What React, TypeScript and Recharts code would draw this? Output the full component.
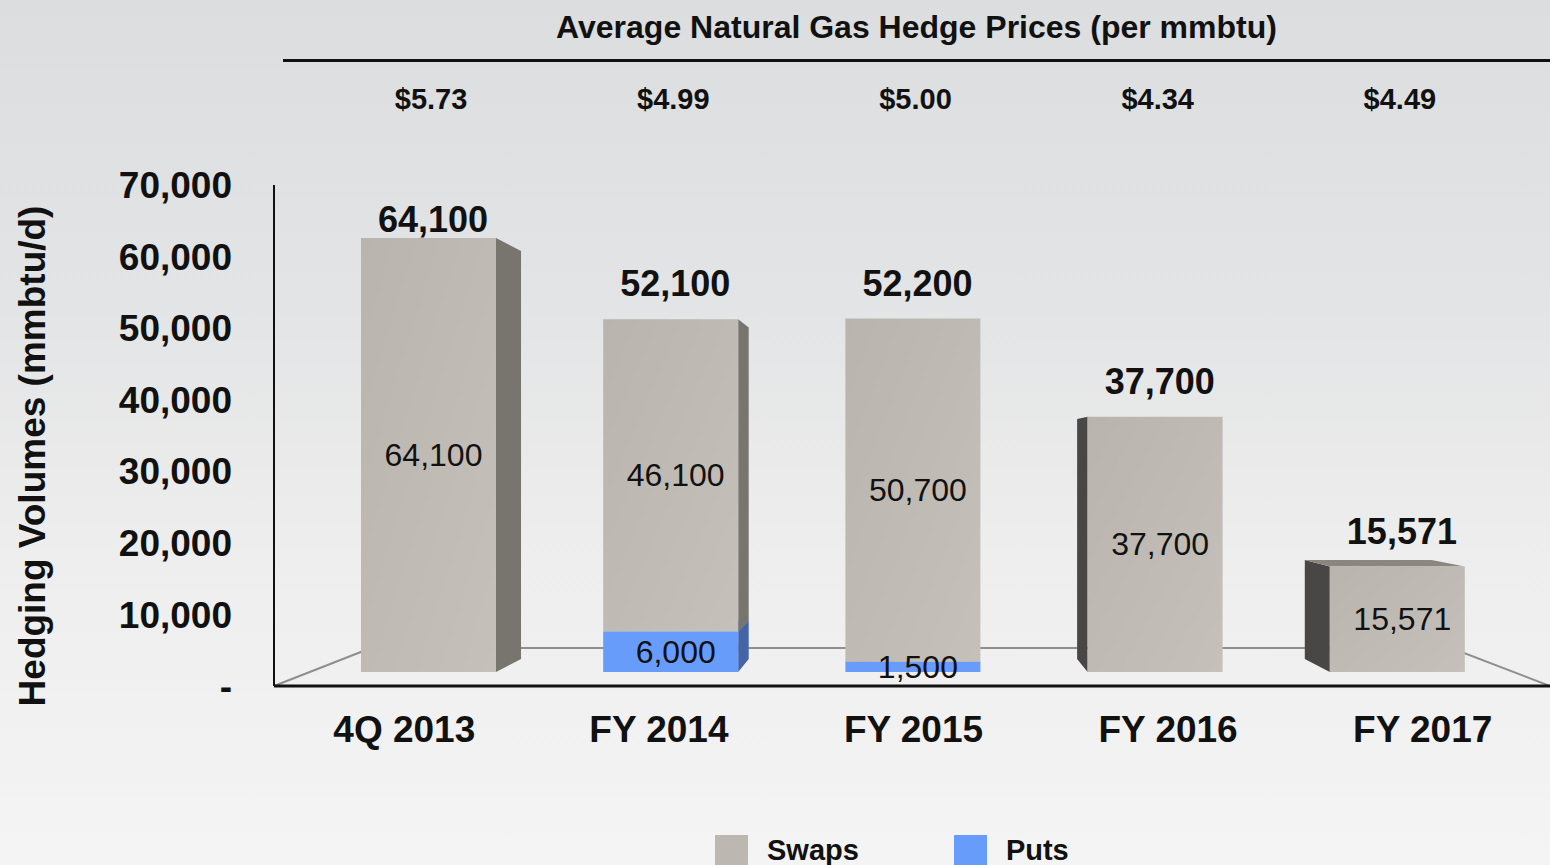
import React from 'react';
import { ComposedChart, Bar, Line, XAxis, YAxis, LabelList, Legend, Customized } from 'recharts';

// ---------- data ----------
const categories = ['4Q 2013', 'FY 2014', 'FY 2015', 'FY 2016', 'FY 2017'];
const swapsValues = [64100, 46100, 50700, 37700, 15571];
const putsValues = [0, 6000, 1500, 0, 0];
const hedgePrices = ['$5.73', '$4.99', '$5.00', '$4.34', '$4.49'];
const yTickValues = [0, 10000, 20000, 30000, 40000, 50000, 60000, 70000];
const titleText = 'Average Natural Gas Hedge Prices (per mmbtu)';
const yAxisTitle = 'Hedging Volumes (mmbtu/d)';

const data = categories.map((c, i) => ({
  category: c,
  swaps: swapsValues[i],
  puts: putsValues[i],
  total: swapsValues[i] + putsValues[i],
  price: hedgePrices[i],
}));

// ---------- layout / style ----------
const W = 1550;
const H = 865;
const PLOT_LEFT = 274;
const PLOT_TOP = 185;
const AXIS_Y = 686;
const TOP_AXIS_H = 120;
const BOTTOM_AXIS_H = 70;
const FONT = '"Liberation Sans", Arial, Helvetica, sans-serif';

const SWAPS = '#bcb8b1';
const PUTS = '#689cfb';
const SWAPS_SIDE_R = '#78746e';
const SWAPS_SIDE_L = '#484745';
const SWAPS_TOP = '#8b8780';
const PUTS_SIDE_R = '#4464a6';
const PUTS_SIDE_L = '#2f4a80';
const PUTS_TOP = '#5a86d8';

// perspective vanishing point (centre of the middle column)
const VX = 913;
const VY = 455;
const DEPTH = 0.06;

const fmt = (v: number) => v.toLocaleString('en-US');

function make3DShape(front: string, sideR: string, sideL: string, topC: string) {
  return (props: any) => {
    const { x, y, width, height } = props;
    if (!height || height <= 0 || !width) return <g />;
    const xl = x, xr = x + width, yt = y, yb = y + height;
    const bx = (p: number) => p + (VX - p) * DEPTH;
    const by = (p: number) => p + (VY - p) * DEPTH;
    return (
      <g>
        {xr < VX - 2 && (
          <polygon
            points={`${xr},${yt} ${bx(xr)},${by(yt)} ${bx(xr)},${by(yb)} ${xr},${yb}`}
            fill={sideR}
          />
        )}
        {xl > VX + 2 && (
          <polygon
            points={`${xl},${yt} ${bx(xl)},${by(yt)} ${bx(xl)},${by(yb)} ${xl},${yb}`}
            fill={sideL}
          />
        )}
        {yt > VY + 2 && (
          <polygon
            points={`${xl},${yt} ${xr},${yt} ${bx(xr)},${by(yt)} ${bx(xl)},${by(yt)}`}
            fill={topC}
          />
        )}
        <rect x={xl} y={yt} width={width} height={height} fill={front} />
      </g>
    );
  };
}

const swapsShape = make3DShape('url(#swapsGrad)', SWAPS_SIDE_R, SWAPS_SIDE_L, SWAPS_TOP);
const putsShape = make3DShape(PUTS, PUTS_SIDE_R, PUTS_SIDE_L, PUTS_TOP);

const insideLabel = (p: any) => {
  const { x, y, width, height, value } = p;
  if (!value) return null;
  return (
    <text
      x={x + width / 2 + 5}
      y={y + height / 2}
      textAnchor="middle"
      dominantBaseline="central"
      fontSize={32}
      fill="#111"
      fontFamily={FONT}
    >
      {fmt(value)}
    </text>
  );
};

// total label above each column, kept inside the plot area
const totalLabel = (p: any) => {
  const { x, y, value, index } = p;
  const baseline = Math.max(y - 23, PLOT_TOP + 47);
  return (
    <text
      key={`tot-${index}`}
      x={x + 5}
      y={baseline}
      textAnchor="middle"
      fontSize={36}
      fontWeight="bold"
      fill="#111"
      fontFamily={FONT}
    >
      {fmt(value)}
    </text>
  );
};

const PriceTick = (p: any) => {
  const { x, y, index } = p;
  return (
    <text x={x + 3} y={y} textAnchor="middle" fontSize={29} fontWeight="bold" fill="#111" fontFamily={FONT}>
      {hedgePrices[index]}
    </text>
  );
};

const CategoryTick = (p: any) => {
  const { x, y, payload } = p;
  return (
    <text x={x} y={y} textAnchor="middle" fontSize={37} fontWeight="bold" fill="#111" fontFamily={FONT}>
      {payload.value}
    </text>
  );
};

const Floor = () => {
  const backY = 648;
  const lx = PLOT_LEFT + 97;
  const rx = W - 99;
  return (
    <g stroke="#8e8e8e" strokeWidth={2} fill="none">
      <line x1={PLOT_LEFT} y1={AXIS_Y} x2={lx} y2={backY} />
      <line x1={lx} y1={backY} x2={rx} y2={backY} />
      <line x1={rx} y1={backY} x2={W} y2={AXIS_Y} />
    </g>
  );
};

const YTitle = () => (
  <text
    x={45}
    y={456}
    transform="rotate(-90, 45, 456)"
    textAnchor="middle"
    fontSize={37}
    fontWeight="bold"
    fill="#111"
    fontFamily={FONT}
  >
    {yAxisTitle}
  </text>
);

const LegendContent = (props: any) => {
  const order = ['swaps', 'puts'];
  const items = (props.payload || [])
    .filter((e: any) => order.includes(e.dataKey))
    .sort((a: any, b: any) => order.indexOf(a.dataKey) - order.indexOf(b.dataKey));
  return (
    <div style={{ display: 'flex', alignItems: 'flex-start', fontFamily: FONT }}>
      {items.map((e: any) => (
        <div key={e.dataKey} style={{ display: 'flex', alignItems: 'flex-start', marginRight: 95 }}>
          <div style={{ width: 33, height: 30, background: e.dataKey === 'swaps' ? SWAPS : PUTS, marginRight: 19 }} />
          <span style={{ fontSize: 29, fontWeight: 'bold', color: '#111', lineHeight: '30px', marginTop: 0 }}>
            {e.value}
          </span>
        </div>
      ))}
    </div>
  );
};

export default function App() {
  return (
    <div
      style={{
        position: 'absolute',
        left: 0,
        top: 0,
        width: W,
        height: H,
        overflow: 'hidden',
        fontFamily: FONT,
        background: 'linear-gradient(to bottom, #dcdddf 0%, #e3e4e5 35%, #eeeeee 65%, #f4f4f4 100%)',
      }}
    >
      <div
        style={{
          position: 'absolute',
          left: 283,
          width: W - 283,
          top: 9,
          textAlign: 'center',
          fontSize: 32,
          fontWeight: 'bold',
          lineHeight: '36px',
          color: '#111',
        }}
      >
        {titleText}
      </div>
      <div style={{ position: 'absolute', left: 283, width: W - 283, top: 59, height: 3, background: '#111' }} />
      <ComposedChart
        width={W}
        height={H}
        data={data}
        margin={{ top: PLOT_TOP - TOP_AXIS_H, right: 0, bottom: H - AXIS_Y - BOTTOM_AXIS_H, left: 0 }}
      >
        <defs>
          <linearGradient id="swapsGrad" x1="0" y1="0" x2="1" y2="1">
            <stop offset="0%" stopColor="#b9b4ad" />
            <stop offset="100%" stopColor="#c5c1ba" />
          </linearGradient>
        </defs>
        <Customized component={Floor} />
        <Customized component={YTitle} />
        <XAxis
          xAxisId="price"
          orientation="top"
          dataKey="category"
          height={TOP_AXIS_H}
          padding={{ left: 33, right: 32 }}
          axisLine={false}
          tickLine={false}
          tickSize={0}
          tickMargin={76}
          tick={<PriceTick />}
          interval={0}
        />
        <XAxis
          xAxisId="labels"
          dataKey="category"
          height={BOTTOM_AXIS_H}
          padding={{ left: 3, right: 0 }}
          axisLine={{ stroke: '#111', strokeWidth: 3 }}
          tickLine={false}
          tickSize={0}
          tickMargin={56}
          tick={<CategoryTick />}
          interval={0}
        />
        <YAxis
          yAxisId="ticks"
          width={PLOT_LEFT}
          domain={[0, 70000]}
          ticks={yTickValues}
          allowDataOverflow
          interval={0}
          axisLine={{ stroke: '#111', strokeWidth: 2 }}
          tickLine={false}
          tickSize={0}
          tickMargin={42}
          tick={{ fontSize: 37, fontWeight: 'bold', fill: '#111', fontFamily: FONT }}
          tickFormatter={(v: number) => (v === 0 ? '-' : fmt(v))}
        />
        <YAxis yAxisId="bars" hide width={0} domain={[-2068, 71927]} allowDataOverflow />
        <Bar
          xAxisId="price"
          yAxisId="bars"
          dataKey="puts"
          name="Puts"
          stackId="a"
          fill={PUTS}
          barSize={135}
          shape={putsShape}
          isAnimationActive={false}
        >
          <LabelList dataKey="puts" content={insideLabel} />
        </Bar>
        <Bar
          xAxisId="price"
          yAxisId="bars"
          dataKey="swaps"
          name="Swaps"
          stackId="a"
          fill={SWAPS}
          barSize={135}
          shape={swapsShape}
          isAnimationActive={false}
        >
          <LabelList dataKey="swaps" content={insideLabel} />
        </Bar>
        <Line
          xAxisId="price"
          yAxisId="bars"
          dataKey="total"
          stroke="none"
          dot={false}
          activeDot={false}
          legendType="none"
          label={totalLabel}
          isAnimationActive={false}
        />
        <Line
          xAxisId="labels"
          yAxisId="ticks"
          dataKey="total"
          stroke="none"
          dot={false}
          activeDot={false}
          legendType="none"
          isAnimationActive={false}
        />
        <Legend
          layout="horizontal"
          verticalAlign="middle"
          align="center"
          content={<LegendContent />}
          wrapperStyle={{ position: 'absolute', left: 715, top: 835, width: 500, height: 30 }}
        />
      </ComposedChart>
    </div>
  );
}
